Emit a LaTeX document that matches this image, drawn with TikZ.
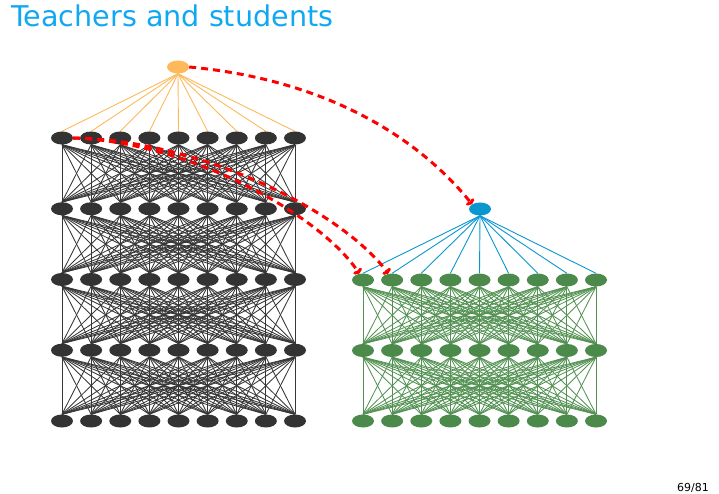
\documentclass[tikz,border=0pt]{standalone}
\usepackage{fontspec}
\setmainfont{DejaVu Sans}
\usetikzlibrary{shapes.geometric,backgrounds,arrows.meta}
\definecolor{titleblue}{RGB}{16,168,240}
\definecolor{tnode}{RGB}{51,51,51}
\definecolor{tedge}{RGB}{55,55,55}
\definecolor{snode}{RGB}{76,138,76}
\definecolor{sedge}{RGB}{84,146,84}
\definecolor{onode}{RGB}{253,185,90}
\definecolor{bnode}{RGB}{10,150,206}
\definecolor{kdred}{RGB}{255,0,0}
\begin{document}
\begin{tikzpicture}[x=1pt,y=-1pt,
  neuron/.style={ellipse, minimum width=22pt, minimum height=13pt, inner sep=0pt, draw=none},
  tline/.style={draw=tedge, line width=0.85pt},
  sline/.style={draw=sedge, line width=0.85pt},
  oline/.style={draw=onode, line width=0.9pt},
  bline/.style={draw=bnode, line width=0.9pt},
  kd/.style={draw=kdred, line width=3pt, dash pattern=on 7pt off 5pt, -{To[length=4.5pt,width=10pt]}}]
\useasboundingbox (0,0) rectangle (719,494);
\node[anchor=base west, font=\fontsize{28.6}{30}\selectfont, text=titleblue, inner sep=0pt] (title) at (11,27) {Teachers and students};
\node[anchor=base east, font=\fontsize{11}{12}\selectfont, inner sep=0pt] (page) at (709,491) {69/81};
% teacher network
\foreach \l in {1,...,5}
  \foreach \i in {1,...,9}
    \node[neuron, fill=tnode] (t\l-\i) at ({62+(\i-1)*29.125},{138+(\l-1)*70.75}) {};
% student network
\foreach \l in {1,2,3}
  \foreach \i in {1,...,9}
    \node[neuron, fill=snode] (s\l-\i) at ({363+(\i-1)*29.125},{280+(\l-1)*70.5}) {};
\node[neuron, fill=onode] (o) at (178,67) {};
\node[neuron, fill=bnode] (b) at (480,209) {};
\begin{scope}[on background layer]
  \foreach \l [count=\n from 2] in {1,...,4}
    \foreach \i in {1,...,9}
      \foreach \j in {1,...,9}
        \draw[tline] (t\l-\i.south) -- (t\n-\j.north);
  \foreach \l [count=\n from 2] in {1,2}
    \foreach \i in {1,...,9}
      \foreach \j in {1,...,9}
        \draw[sline] (s\l-\i.south) -- (s\n-\j.north);
  \foreach \i in {1,...,9} {
    \draw[oline] (o.south) -- (t1-\i.north);
    \draw[bline] (b.south) -- (s1-\i.north);
  }
\end{scope}
\draw[kd] (o.east) .. controls (330,80) and (420,140) .. (b.north west);
\draw[kd] (t1-1.east) .. controls (200,140) and (340,210) .. (s1-2.120);
\draw[kd] (t1-1.east) .. controls (190,142) and (320,215) .. (s1-1.120);
\end{tikzpicture}
\end{document}
